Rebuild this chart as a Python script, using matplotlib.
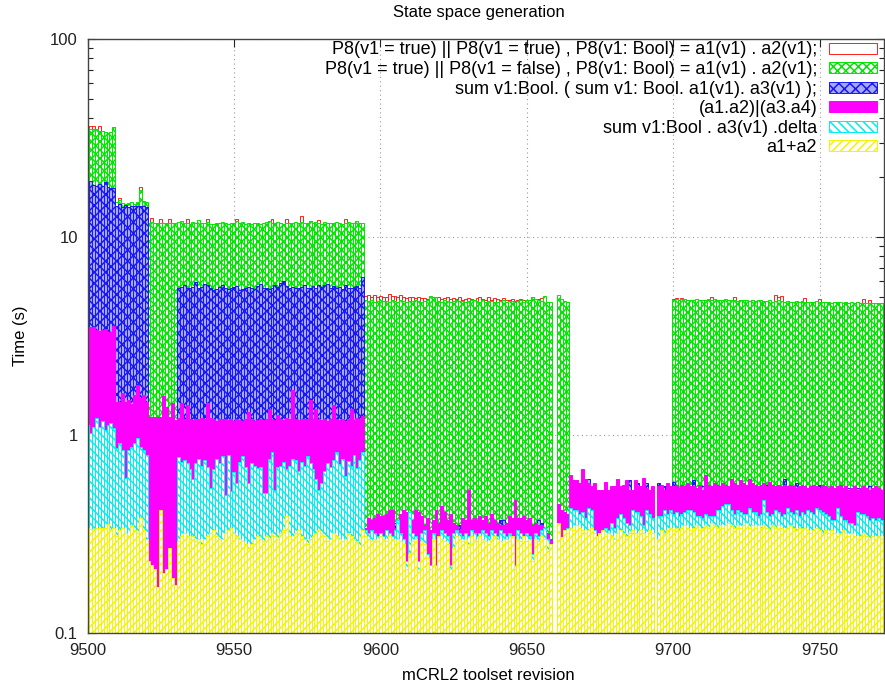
import numpy as np
import matplotlib
matplotlib.use("Agg")
import matplotlib.pyplot as plt
from matplotlib.patches import Patch
from matplotlib.ticker import FixedLocator, NullFormatter

plt.rcParams['font.family'] = ['Liberation Sans', 'DejaVu Sans']
plt.rcParams['hatch.linewidth'] = 1.1

nan = float('nan')

# revisions with a measurement (9659, 9660 and 9694 are missing)
revisions = list(range(9500, 9659)) + list(range(9661, 9694)) + list(range(9695, 9773))

# a1+a2
t_a1a2 = [
    0.34, 0.335, 0.335, 0.34, 0.34, 0.34, 0.34, 0.355, 0.335, 0.34,
    0.31, 0.33, 0.34, 0.32, 0.31, 0.35, 0.33, 0.32, 0.38, 0.33, 0.30,
    0.23, 0.22, 0.21, 0.17, 0.42, 0.20, 0.21, 0.27, 0.19, 0.175,
    0.29, 0.31, 0.32, 0.31, 0.30, 0.31, 0.29, 0.30, 0.28, 0.30,
    0.31, 0.32, 0.33, 0.31, 0.30, 0.30, 0.32, 0.33, 0.34, 0.32,
    0.31, 0.30, 0.29, 0.28, 0.27, 0.28, 0.30, 0.31, 0.30, 0.29,
    0.31, 0.30, 0.32, 0.31, 0.30, 0.32, 0.33, 0.39, 0.31, 0.30,
    0.32, 0.33, 0.31, 0.30, 0.28, 0.30, 0.31, 0.32, 0.33, 0.32,
    0.31, 0.29, 0.30, 0.32, 0.31, 0.30, 0.29, 0.30, 0.32, 0.31,
    0.30, 0.29, 0.27, 0.33,
    0.31, 0.30, 0.29, 0.30, 0.29, 0.31, 0.30, 0.29, 0.31, 0.30,
    0.28, 0.30, 0.29, 0.28, 0.21, 0.25, 0.29, 0.30, 0.21, 0.29,
    0.28, 0.24, 0.21, 0.30, 0.21, 0.31, 0.30, 0.29, 0.28, 0.21,
    0.27, 0.31, 0.30, 0.29, 0.30, 0.28, 0.31, 0.30, 0.29, 0.31,
    0.30, 0.29, 0.28, 0.30, 0.31, 0.30, 0.29, 0.28, 0.30, 0.29,
    0.31, 0.21, 0.30, 0.29, 0.31, 0.29, 0.30, 0.23, 0.30, 0.29,
    0.31, 0.30, 0.26, 0.28,
    0.36, 0.305, 0.33, 0.32,
    0.34, 0.33, 0.35, 0.34, 0.33, 0.32, 0.33, 0.34, 0.32, 0.31,
    0.32, 0.33, 0.31, 0.32, 0.31, 0.30, 0.32, 0.33, 0.32, 0.31,
    0.32, 0.33, 0.32, 0.31, 0.33, 0.32, 0.31, 0.33, 0.32,
    0.30, 0.33, 0.32, 0.33, 0.34,
    0.33, 0.34, 0.33, 0.34, 0.35, 0.34, 0.33, 0.34, 0.35, 0.33,
    0.34, 0.35, 0.34, 0.36, 0.35, 0.34, 0.35, 0.34, 0.35, 0.36,
    0.35, 0.34, 0.35, 0.34, 0.35, 0.36, 0.34, 0.35, 0.34, 0.35,
    0.34, 0.35, 0.34, 0.33, 0.35, 0.34, 0.35, 0.34, 0.33, 0.34,
    0.35, 0.34, 0.33, 0.34, 0.33, 0.34, 0.33, 0.32, 0.33, 0.34,
    0.33, 0.32, 0.33, 0.32, 0.33, 0.32, 0.31, 0.32, 0.33, 0.32,
    0.31, 0.32, 0.31, 0.30, 0.31, 0.32, 0.31, 0.30, 0.31, 0.30,
    0.31, 0.30, 0.31,
]

# sum v1:Bool . a3(v1) .delta
t_delta = [
    1.12, 1.02, 1.10, 1.22, 1.10, 1.18, 1.06, 1.12, 1.15, 1.08,
    0.86, 0.91, 0.84, 0.61, 0.84, 0.87, 0.91, 0.97, 0.87, 0.84, 0.79,
    0.22, 0.21, 0.20, 0.16, 0.30, 0.18, 0.20, 0.25, 0.18, 0.16,
    0.77, 0.73, 0.75, 0.72, 0.67, 0.60, 0.72, 0.76, 0.70, 0.75,
    0.69, 0.54, 0.67, 0.76, 0.72, 0.78, 0.50, 0.79, 0.52, 0.65,
    0.57, 0.73, 0.78, 0.69, 0.57, 0.72, 0.70, 0.68, 0.69, 0.51,
    0.51, 0.76, 0.82, 0.53, 0.69, 0.70, 0.73, 0.67, 0.70, 0.76,
    0.75, 0.66, 0.73, 0.70, 0.78, 0.72, 0.67, 0.60, 0.53, 0.57,
    0.66, 0.72, 0.69, 0.75, 0.82, 0.71, 0.76, 0.62, 0.74, 0.70,
    0.79, 0.68, 0.75, 0.82,
    0.33, 0.32, 0.33, 0.32, 0.31, 0.32, 0.31, 0.33, 0.32, 0.31,
    0.33, 0.37, 0.32, 0.30, 0.23, 0.41, 0.32, 0.31, 0.23, 0.32,
    0.33, 0.25, 0.22, 0.32, 0.22, 0.31, 0.33, 0.32, 0.31, 0.22,
    0.32, 0.33, 0.32, 0.31, 0.32, 0.31, 0.33, 0.32, 0.31, 0.32,
    0.33, 0.32, 0.31, 0.33, 0.32, 0.31, 0.33, 0.32, 0.31, 0.32,
    0.31, 0.22, 0.33, 0.32, 0.31, 0.32, 0.31, 0.25, 0.32, 0.31,
    0.33, 0.34, 0.30, 0.26,
    0.30, 0.29, 0.33, 0.34,
    0.43, 0.42, 0.42, 0.40, 0.41, 0.38, 0.43, 0.42, 0.33, 0.31,
    0.30, 0.31, 0.34, 0.33, 0.36, 0.34, 0.38, 0.40, 0.38, 0.36,
    0.35, 0.42, 0.41, 0.41, 0.39, 0.35, 0.42, 0.40, 0.38,
    0.39, 0.39, 0.42, 0.40, 0.42,
    0.40, 0.41, 0.39, 0.40, 0.41, 0.42, 0.42, 0.41, 0.39, 0.39,
    0.38, 0.40, 0.39, 0.39, 0.39, 0.42, 0.42, 0.44, 0.45, 0.45,
    0.42, 0.40, 0.42, 0.41, 0.40, 0.40, 0.43, 0.41, 0.41, 0.39,
    0.40, 0.47, 0.41, 0.39, 0.40, 0.42, 0.41, 0.39, 0.40, 0.43,
    0.41, 0.40, 0.42, 0.39, 0.41, 0.40, 0.42, 0.41, 0.40, 0.43,
    0.42, 0.41, 0.40, 0.39, 0.37, 0.37, 0.43, 0.39, 0.37, 0.37,
    0.36, 0.36, 0.35, 0.41, 0.40, 0.40, 0.39, 0.37, 0.38, 0.37,
    0.38, 0.37, 0.36,
]

# (a1.a2)|(a3.a4)
t_par = [
    3.30, 3.50, 3.50, 3.40, 3.35, 3.40, 3.45, 3.30, 3.30, 3.55,
    1.47, 1.47, 1.63, 1.47, 1.50, 1.44, 1.60, 1.79, 1.53, 1.60, 1.47,
    1.24, 1.24, 1.24, 1.24, 1.24, 1.57, 1.38, 1.24, 1.45, 1.19,
    1.22, 1.45, 1.20, 1.42, 1.20, 1.19, 1.21, 1.20, 1.22, 1.20,
    1.45, 1.22, 1.20, 1.18, 1.20, 1.21, 1.20, 1.19, 1.20, 1.18,
    1.20, 1.19, 1.18, 1.20, 1.30, 1.20, 1.18, 1.19, 1.20, 1.19,
    1.20, 1.35, 1.20, 1.19, 1.26, 1.20, 1.19, 1.22, 1.20, 1.69,
    1.20, 1.19, 1.20, 1.21, 1.20, 1.50, 1.20, 1.36, 1.20, 1.19,
    1.20, 1.18, 1.20, 1.42, 1.20, 1.19, 1.20, 1.18, 1.20, 1.36,
    1.19, 1.22, 1.20, 1.25,
    0.34, 0.38, 0.37, 0.38, 0.40, 0.39, 0.39, 0.40, 0.42, 0.42,
    0.34, 0.36, 0.40, 0.42, 0.41, 0.35, 0.37, 0.42, 0.41, 0.39,
    0.35, 0.38, 0.33, 0.37, 0.42, 0.36, 0.44, 0.41, 0.37, 0.40,
    0.36, 0.35, 0.33, 0.38, 0.37, 0.53, 0.37, 0.38, 0.37, 0.39,
    0.37, 0.39, 0.36, 0.40, 0.37, 0.36, 0.35, 0.35, 0.36, 0.39,
    0.38, 0.47, 0.38, 0.38, 0.39, 0.37, 0.38, 0.35, 0.36, 0.35,
    0.35, 0.33, 0.32, 0.30,
    0.45, 0.42, 0.41, 0.40,
    0.63, 0.59, 0.59, 0.57, 0.67, 0.60, 0.57, 0.55, 0.57, 0.53,
    0.53, 0.53, 0.58, 0.53, 0.55, 0.55, 0.60, 0.55, 0.56, 0.59,
    0.53, 0.53, 0.59, 0.55, 0.55, 0.61, 0.54, 0.53, 0.55,
    0.55, 0.56, 0.53, 0.57, 0.55,
    0.55, 0.56, 0.54, 0.56, 0.55, 0.57, 0.55, 0.55, 0.54, 0.56,
    0.53, 0.63, 0.56, 0.55, 0.57, 0.56, 0.55, 0.57, 0.56, 0.55,
    0.60, 0.57, 0.56, 0.59, 0.57, 0.56, 0.60, 0.57, 0.56, 0.55,
    0.56, 0.57, 0.55, 0.58, 0.56, 0.55, 0.56, 0.55, 0.56, 0.55,
    0.56, 0.55, 0.54, 0.55, 0.56, 0.55, 0.54, 0.55, 0.56, 0.55,
    0.54, 0.56, 0.55, 0.54, 0.55, 0.54, 0.55, 0.56, 0.54, 0.55,
    0.53, 0.54, 0.55, 0.53, 0.54, 0.55, 0.54, 0.53, 0.54, 0.55,
    0.54, 0.53, 0.54,
]

# sum v1:Bool. ( sum v1: Bool. a1(v1). a3(v1) );
t_sum = [
    17.9, 19.2, 18.3, 18.2, 18.5, 18.1, 19.0, 17.8, 17.7, 17.6,
    14.4, 14.6, 14.1, 14.5, 14.2, 14.3, 14.3, 14.4, 14.3, 14.3, 14.2,
    nan, nan, nan, nan, nan, nan, nan, nan, nan, nan,
    5.5, 5.6, 5.7, 5.5, 5.5, 5.6, 5.9, 5.5, 5.6, 5.8,
    5.7, 5.5, 5.4, 5.45, 5.6, 5.7, 5.5, 5.45, 5.55, 5.6,
    5.65, 5.4, 5.45, 5.5, 5.6, 5.55, 5.45, 5.65, 5.8, 5.55,
    5.5, 5.45, 5.55, 5.7, 5.6, 5.85, 6.0, 5.65, 5.55, 5.6,
    5.5, 5.55, 5.6, 5.7, 5.5, 5.55, 5.65, 5.55, 5.75, 5.6,
    5.7, 5.8, 5.55, 5.65, 5.5, 5.6, 5.45, 5.7, 5.55, 5.5,
    5.6, 5.65, 5.5, 6.3,
    0.30, 0.30, 0.30, 0.30, 0.30, 0.30, 0.30, 0.30, 0.30, 0.30,
    0.36, 0.30, 0.30, 0.30, 0.30, 0.30, 0.30, 0.30, 0.30, 0.30,
    0.30, 0.30, 0.30, 0.30, 0.30, 0.30, 0.30, 0.30, 0.30, 0.30,
    0.30, 0.30, 0.35, 0.30, 0.30, 0.30, 0.30, 0.30, 0.30, 0.30,
    0.30, 0.30, 0.30, 0.30, 0.30, 0.30, 0.37, 0.37, 0.30, 0.30,
    0.30, 0.30, 0.30, 0.30, 0.30, 0.30, 0.30, 0.30, 0.30, 0.37,
    0.36, 0.30, 0.30, 0.30,
    0.30, 0.30, 0.30, 0.30,
    0.45, 0.45, 0.45, 0.45, 0.45, 0.45, 0.60, 0.45, 0.45, 0.45,
    0.45, 0.45, 0.45, 0.45, 0.45, 0.45, 0.45, 0.45, 0.45, 0.45,
    0.59, 0.45, 0.45, 0.57, 0.45, 0.45, 0.57, 0.45, 0.45,
    0.57, 0.45, 0.55, 0.45, 0.45,
    0.58, 0.50, 0.50, 0.50, 0.50, 0.50, 0.50, 0.59, 0.50, 0.50,
    0.55, 0.50, 0.50, 0.50, 0.50, 0.50, 0.50, 0.50, 0.50, 0.50,
    0.50, 0.50, 0.50, 0.50, 0.50, 0.50, 0.50, 0.50, 0.50, 0.50,
    0.50, 0.50, 0.56, 0.50, 0.50, 0.50, 0.50, 0.50, 0.60, 0.50,
    0.50, 0.50, 0.57, 0.50, 0.50, 0.50, 0.50, 0.50, 0.50, 0.50,
    0.56, 0.50, 0.50, 0.50, 0.50, 0.50, 0.50, 0.50, 0.50, 0.50,
    0.54, 0.50, 0.50, 0.54, 0.50, 0.50, 0.50, 0.55, 0.50, 0.50,
    0.50, 0.50, 0.50,
]

# P8(v1 = true) || P8(v1 = false)
t_p8_false = [
    35.5, 35.0, 35.0, 35.0, 34.5, 34.5, 34.0, 33.5, 34.0, 36.0,
    15.0, 15.4, 14.8, 14.6, 14.8, 15.0, 14.6, 15.0, 17.3, 15.2, 15.0,
    11.8, 11.9, 11.8, 11.8, 11.7, 11.8, 11.8, 11.7, 11.8, 11.8,
    11.9, 12.0, 11.7, 11.8, 11.6, 11.9, 11.8, 12.2, 11.8, 11.7,
    11.9, 11.6, 11.6, 11.7, 11.8, 11.9, 11.7, 11.6, 11.8, 11.8,
    12.0, 11.7, 11.9, 11.6, 11.7, 11.6, 11.8, 11.7, 11.6, 11.7,
    11.9, 12.1, 11.8, 11.7, 11.9, 11.8, 11.6, 11.7, 11.8, 11.7,
    11.9, 11.8, 11.9, 11.7, 11.8, 12.1, 11.7, 11.9, 11.8, 11.6,
    11.9, 11.8, 11.7, 11.8, 11.9, 11.7, 11.6, 11.8, 11.9, 11.7,
    11.8, 12.0, 11.8, 11.7,
    4.80, 4.75, 4.78, 4.72, 4.75, 4.80, 4.74, 4.76, 4.70, 4.78,
    4.75, 4.72, 4.78, 4.74, 4.70, 4.76, 4.73, 4.78, 4.75, 4.72,
    4.74, 4.80, 5.05, 5.00, 4.95, 4.75, 4.72, 4.78, 4.74, 4.70,
    4.76, 4.80, 4.73, 4.75, 4.70, 4.74, 4.78, 4.80, 4.75, 4.72,
    4.78, 4.70, 4.74, 4.76, 4.72, 4.68, 4.75, 4.78, 4.72, 4.74,
    4.76, 4.70, 4.75, 4.78, 4.72, 4.82, 4.78, 5.00, 4.85, 4.78,
    4.75, 5.05, 4.70, 4.68,
    5.10, 4.85, 4.77, 4.67,
    nan, nan, nan, nan, nan, nan, nan, nan, nan, nan,
    nan, nan, nan, nan, nan, nan, nan, nan, nan, nan,
    nan, nan, nan, nan, nan, nan, nan, nan, nan,
    nan, nan, nan, nan, nan,
    4.82, 4.85, 4.80, 4.84, 4.86, 4.82, 4.80, 4.83, 4.85, 4.80,
    4.82, 4.78, 4.84, 4.80, 4.86, 4.82, 4.78, 4.80, 4.84, 4.80,
    4.78, 4.82, 4.76, 4.80, 4.78, 4.82, 4.76, 4.80, 4.74, 4.78,
    4.80, 4.76, 4.74, 4.78, 4.72, 4.76, 4.80, 4.74, 4.72, 4.76,
    4.72, 4.70, 4.74, 4.72, 4.76, 4.70, 4.68, 4.72, 4.70, 4.74,
    4.68, 4.70, 4.72, 4.68, 4.66, 4.70, 4.72, 4.68, 4.66, 4.70,
    4.64, 4.68, 4.66, 4.70, 4.64, 4.66, 4.62, 4.66, 4.64, 4.62,
    4.66, 4.62, 4.64,
]

# P8(v1 = true) || P8(v1 = true)
t_p8_true = [
    35.5, 36.5, 36.5, 35.0, 36.5, 34.5, 34.0, 33.5, 34.0, 36.0,
    14.9, 15.8, 14.7, 14.5, 14.7, 14.9, 14.5, 14.9, 17.9, 15.1, 14.9,
    11.7, 12.5, 11.7, 11.7, 12.3, 11.7, 11.7, 12.4, 11.7, 11.7,
    11.8, 11.9, 11.6, 12.4, 11.5, 11.8, 11.7, 12.1, 11.7, 11.6,
    12.3, 11.5, 11.5, 11.6, 11.7, 11.8, 11.6, 11.5, 11.7, 11.7,
    12.4, 11.6, 11.8, 11.5, 11.6, 11.5, 11.7, 11.6, 11.5, 11.6,
    11.8, 12.0, 12.3, 11.6, 11.8, 11.7, 11.5, 12.4, 11.7, 11.6,
    11.8, 11.7, 12.7, 11.6, 11.7, 12.0, 11.6, 11.8, 12.2, 11.5,
    11.8, 11.7, 11.6, 11.7, 11.8, 11.6, 11.5, 12.3, 11.8, 11.6,
    11.7, 11.9, 11.7, 11.6,
    5.05, 5.10, 5.00, 5.12, 4.98, 5.05, 4.95, 5.00, 5.15, 5.05,
    5.02, 4.98, 5.08, 4.95, 4.90, 5.00, 4.95, 4.92, 4.95, 4.90,
    4.92, 4.88, 5.00, 4.95, 4.90, 4.95, 4.88, 4.92, 4.95, 4.85,
    4.90, 4.85, 4.95, 4.80, 4.88, 4.92, 4.85, 4.82, 4.90, 4.95,
    4.85, 4.80, 4.95, 4.82, 4.90, 4.85, 4.80, 4.90, 4.82, 4.80,
    4.88, 4.75, 4.82, 4.85, 4.78, 4.80, 4.82, 4.95, 4.80, 4.85,
    4.90, 5.00, 4.65, 4.60,
    4.90, 4.80, 4.70, 4.60,
    nan, nan, nan, nan, nan, nan, nan, nan, nan, nan,
    nan, nan, nan, nan, nan, nan, nan, nan, nan, nan,
    nan, nan, nan, nan, nan, nan, nan, nan, nan,
    nan, nan, nan, nan, nan,
    4.88, 4.90, 4.82, 4.90, 4.84, 4.80, 4.78, 4.81, 4.83, 4.78,
    4.80, 4.76, 4.82, 4.95, 4.84, 4.80, 4.76, 4.78, 4.82, 4.78,
    4.76, 5.00, 4.74, 4.78, 4.76, 4.80, 4.74, 4.78, 4.72, 4.76,
    4.78, 4.74, 4.72, 4.76, 4.70, 5.10, 4.98, 5.05, 4.70, 4.74,
    4.70, 4.68, 4.72, 4.70, 4.74, 4.90, 4.66, 4.70, 4.68, 4.72,
    4.85, 4.68, 4.70, 4.66, 4.64, 4.68, 4.70, 4.66, 4.64, 4.68,
    4.62, 4.66, 4.64, 4.68, 4.62, 4.85, 4.60, 4.80, 4.62, 4.60,
    4.64, 4.60, 4.62,
]

labels = [
    "P8(v1 = true) || P8(v1 = true) , P8(v1: Bool) = a1(v1) . a2(v1);",
    "P8(v1 = true) || P8(v1 = false) , P8(v1: Bool) = a1(v1) . a2(v1);",
    "sum v1:Bool. ( sum v1: Bool. a1(v1). a3(v1) );",
    "(a1.a2)|(a3.a4)",
    "sum v1:Bool . a3(v1) .delta",
    "a1+a2",
]
values = [t_p8_true, t_p8_false, t_sum, t_par, t_delta, t_a1a2]

# gnuplot-like fill styles, drawn in this order (later ones on top)
styles = [
    dict(fill=False, edgecolor='#ff2020'),
    dict(facecolor='white', edgecolor='#00e600', hatch='xxxx'),
    dict(facecolor='#a8a8ff', edgecolor='#1818f4', hatch='xxx'),
    dict(facecolor='#ff00ff', edgecolor='#ff00ff'),
    dict(facecolor='white', edgecolor='#00eeee', hatch='\\\\\\\\'),
    dict(facecolor='white', edgecolor='#f4f400', hatch='////'),
]

for lab, v in zip(labels, values):
    if len(v) != len(revisions):
        print("length mismatch", lab, len(v), len(revisions))

fig = plt.figure(figsize=(8.85, 6.88), dpi=100)
ax = fig.add_axes([87.5 / 885, 55 / 688, 796.5 / 885, 594 / 688])

base = 0.01
x = np.array(revisions, dtype=float)
for i, (v, st) in enumerate(zip(values, styles)):
    v = np.array(v, dtype=float)
    m = ~np.isnan(v)
    ax.bar(x[m], v[m] - base, bottom=base, width=1.0, linewidth=0.7,
           zorder=2 + i, **st)

ax.set_yscale('log')
ax.set_ylim(0.1, 100)
ax.set_xlim(9500, 9772)

ax.xaxis.set_major_locator(FixedLocator([9500, 9550, 9600, 9650, 9700, 9750]))
ax.yaxis.set_major_locator(FixedLocator([0.1, 1, 10, 100]))
ax.set_yticklabels(['0.1', '1', '10', '100'])
minor = [m * d for d in (0.1, 1, 10) for m in range(2, 10)]
ax.yaxis.set_minor_locator(FixedLocator(minor))
ax.yaxis.set_minor_formatter(NullFormatter())

ax.tick_params(which='both', direction='in', top=True, right=True,
               labelsize=12, colors='#222222')
ax.tick_params(which='major', length=6, width=0.8)
ax.tick_params(which='minor', length=3.5, width=0.8)
ax.tick_params(axis='x', pad=7)
ax.tick_params(axis='y', pad=7)

ax.grid(True, which='major', linestyle=(0, (1, 3)), color='#999999', linewidth=0.8)
ax.set_axisbelow(True)
for s in ax.spines.values():
    s.set_color('#444444')
    s.set_linewidth(1.0)
    s.set_zorder(20)

handles = [Patch(label=lab, linewidth=0.7, **st) for lab, st in zip(labels, styles)]
ax.legend(handles=handles, loc='upper right', frameon=False, markerfirst=False,
          fontsize=13, handlelength=2.66, handleheight=0.58, handletextpad=0.65,
          labelspacing=0.14, borderpad=0, borderaxespad=0,
          bbox_to_anchor=((877 - 87.5) / 796.5, 1 - 2.5 / 594))

fig.text(479 / 885, 1 - 12 / 688, "State space generation", ha='center', va='center', fontsize=12)
fig.text(488 / 885, 1 - 676 / 688, "mCRL2 toolset revision", ha='center', va='center', fontsize=12)
fig.text(20 / 885, 1 - 336 / 688, "Time (s)", ha='center', va='center', rotation=90, fontsize=12)

fig.savefig("out.png", dpi=100)
